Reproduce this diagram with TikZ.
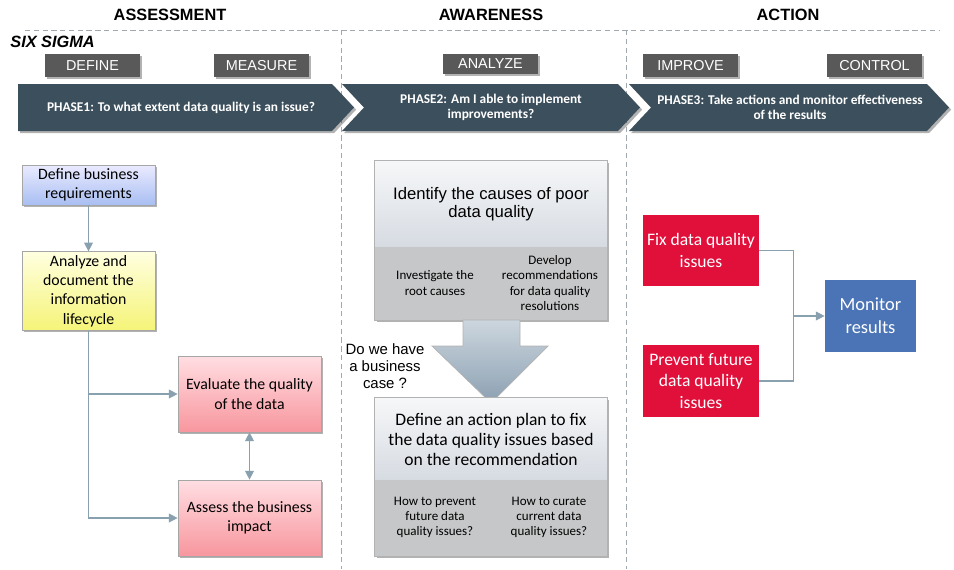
\documentclass[tikz,border=0pt]{standalone}
\usepackage{fontspec}
\setmainfont{Carlito}
\newfontfamily\arialfont{Liberation Sans}
\usetikzlibrary{positioning,arrows.meta,shadows}

\definecolor{slate}{RGB}{60,79,92}
\definecolor{tabgray}{RGB}{89,89,89}
\definecolor{linkblue}{RGB}{137,161,175}
\definecolor{crimson}{RGB}{224,16,59}
\definecolor{steel}{RGB}{74,116,182}
\definecolor{dashgray}{RGB}{160,168,176}

\tikzset{
  shadowed/.style={drop shadow={shadow xshift=1.2pt,shadow yshift=-1.2pt,opacity=0.3,fill=black}},
  tab/.style={fill=tabgray,text=white,font=\arialfont\fontsize{8.2}{9}\selectfont,
    minimum width=1.9cm,minimum height=0.46cm,inner sep=0pt,shadowed},
  phase/.style={fill=slate,shadowed},
  phasetext/.style={text=white,font=\bfseries\fontsize{7.6}{8.6}\selectfont,align=center},
  heading/.style={font=\arialfont\bfseries\fontsize{9.3}{11}\selectfont},
  conn/.style={draw=linkblue,line width=0.7pt,-{Triangle[length=5pt,width=5pt]}},
  link/.style={draw=linkblue,line width=0.7pt},
  stepbox/.style={draw=black!35,inner sep=2pt,align=center,
    font=\fontsize{9}{11}\selectfont,shadowed},
  bluebox/.style={stepbox,top color=blue!8,bottom color={rgb,255:red,168;green,190;blue,242},
    minimum width=2.66cm,minimum height=0.8cm},
  yellowbox/.style={stepbox,top color={rgb,255:red,255;green,255;blue,224},
    bottom color={rgb,255:red,245;green,244;blue,120},minimum width=2.66cm,minimum height=1.52cm},
  pinkbox/.style={stepbox,top color={rgb,255:red,255;green,222;blue,226},
    bottom color={rgb,255:red,248;green,150;blue,158},minimum width=2.86cm,minimum height=1.52cm},
  casetop/.style={top color={rgb,255:red,246;green,247;blue,248},
    bottom color={rgb,255:red,214;green,219;blue,226},minimum width=4.64cm,inner sep=0pt,align=center,shadowed},
  casebot/.style={fill={rgb,255:red,198;green,199;blue,200},minimum width=4.64cm,inner sep=0pt,shadowed},
  subtext/.style={align=center,font=\fontsize{7.4}{8.6}\selectfont},
  actbox/.style={text=white,align=center,inner sep=0pt,font=\fontsize{10}{12.5}\selectfont}
}

\begin{document}
\begin{tikzpicture}[x=0.02cm,y=-0.02cm]
\useasboundingbox (0,0) rectangle (954,569);

% Column separators
\draw[dashgray,line width=0.5pt,dash pattern=on 3pt off 2pt] (25,30) -- (940,30);
\foreach \x in {341,626}
  \draw[dashgray,line width=0.5pt,dash pattern=on 3pt off 2pt] (\x,30) -- (\x,569);

% Headings
\node[heading] (hassess) at (170,15) {ASSESSMENT};
\node[heading] (haware) at (491,15) {AWARENESS};
\node[heading] (haction) at (788,15) {ACTION};
\node[heading,font=\arialfont\bfseries\itshape\fontsize{9.3}{11}\selectfont,anchor=west,inner sep=0pt] (sixsigma) at (10,42) {SIX SIGMA};

% Six sigma steps
\foreach \name/\x/\h in {DEFINE/92.5/0.46,MEASURE/261.5/0.46,ANALYZE/490.5/0.39,IMPROVE/690.5/0.46,CONTROL/874.5/0.46}
  \node[tab,minimum height=\h cm] (t\name) at (\x,65.5-11.5+\h*25) {\name};

% Phase chevrons
\fill[phase] (18,84) -- (332,84) -- (354,107.5) -- (332,131) -- (18,131) -- cycle;
\fill[phase] (342,84) -- (618,84) -- (640,107.5) -- (618,131) -- (342,131) -- (364,107.5) -- cycle;
\fill[phase] (629,84) -- (927,84) -- (949,107.5) -- (927,131) -- (629,131) -- (651,107.5) -- cycle;
\node[phasetext] (phase1) at (181,107.5) {PHASE1: To what extent data quality is an issue?};
\node[phasetext] (phase2) at (491,107.5) {PHASE2: Am I able to implement\\improvements?};
\node[phasetext] (phase3) at (790,107.5) {PHASE3: Take actions and monitor effectiveness\\of the results};

% Assessment
\node[bluebox] (define) at (88.5,185) {Define business\\requirements};
\node[yellowbox] (analyze) at (88.5,291) {Analyze and\\document the\\information\\lifecycle};
\node[pinkbox] (evaluate) at (249.5,394) {Evaluate the quality\\of the data};
\node[pinkbox] (assess) at (249.5,518) {Assess the business\\impact};

\draw[conn] (define) -- (analyze);
\draw[conn] (analyze.south) |- (assess.west);
\draw[conn] (analyze.south |- evaluate.west) -- (evaluate.west);
\draw[conn,{Triangle[length=5pt,width=5pt]}-{Triangle[length=5pt,width=5pt]}] (evaluate) -- (assess);

% Awareness
\node[casetop,minimum height=1.72cm,font=\arialfont\fontsize{9.5}{10.2}\selectfont] (causes) at (491,204)
  {Identify the causes of poor\\data quality};
\node[casebot,minimum height=1.46cm] (causesbot) at (491,283.5) {};
\draw[black!30] (causes.north west) rectangle (causesbot.south east);
\node[subtext] (rootcause) at (435,283) {Investigate the\\root causes};
\node[subtext] (recommend) at (550,283) {Develop\\recommendations\\for data quality\\resolutions};

% Big arrow
\shade[top color={rgb,255:red,204;green,214;blue,222},bottom color={rgb,255:red,140;green,160;blue,178},draw=black!30]
  (463,320) -- (520,320) -- (520,346) -- (548,346) -- (491,403) -- (432,346) -- (463,346) -- cycle;
\node[align=center,font=\arialfont\fontsize{8.5}{9.6}\selectfont] (bizcase) at (385,366) {Do we have\\a business\\case ?};

\node[casetop,minimum height=1.64cm,font=\fontsize{10}{11.4}\selectfont] (plan) at (491,439)
  {Define an action plan to fix\\the data quality issues based\\on the recommendation};
\node[casebot,minimum height=1.52cm] (planbot) at (491,518) {};
\draw[black!30] (plan.north west) rectangle (planbot.south east);
\node[subtext] (preventq) at (435,517.5) {How to prevent\\future data\\quality issues?};
\node[subtext] (curateq) at (549,517.5) {How to curate\\current data\\quality issues?};

% Action
\node[actbox,fill=crimson,minimum width=2.32cm,minimum height=1.42cm] (fix) at (701,250.5) {Fix data quality\\issues};
\node[actbox,fill=crimson,minimum width=2.32cm,minimum height=1.44cm] (prevent) at (701,381) {Prevent future\\data quality\\issues};
\node[actbox,fill=steel,minimum width=1.82cm,minimum height=1.44cm,font=\fontsize{10.5}{13}\selectfont] (monitor) at (870.5,316) {Monitor\\results};

\draw[link] (fix.east) -- ++(34,0) coordinate (join) |- (prevent.east);
\draw[conn] (join |- monitor.west) -- (monitor.west);

\end{tikzpicture}
\end{document}
